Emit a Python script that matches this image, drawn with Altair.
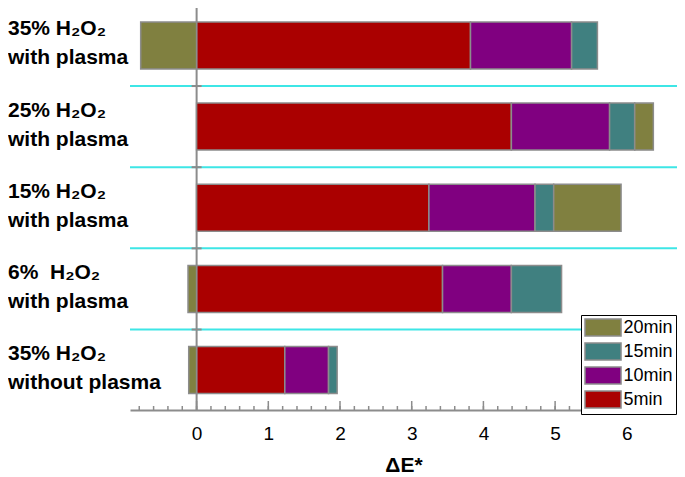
import altair as alt
import pandas as pd

# ---------------- data ----------------
categories = [
    "35% H₂O₂\nwith plasma",
    "25% H₂O₂\nwith plasma",
    "15% H₂O₂\nwith plasma",
    "6%\u00a0 H₂O₂\nwith plasma",
    "35% H₂O₂\nwithout plasma",
]
min5 = [3.82, 4.39, 3.24, 3.43, 1.23]
min10 = [1.41, 1.37, 1.48, 0.96, 0.61]
min15 = [0.36, 0.35, 0.26, 0.70, 0.12]
min20 = [-0.78, 0.26, 0.94, -0.12, -0.11]

durations = ["5min", "10min", "15min", "20min"]
legend_order = ["20min", "15min", "10min", "5min"]
legend_colors = ["#808040", "#408080", "#800080", "#aa0000"]

major_ticks = [0, 1, 2, 3, 4, 5, 6]
minor_ticks = [round(-0.8 + 0.2 * i, 1) for i in range(38)]
separators = [0.5, 1.5, 2.5, 3.5]

# ---------------- tables ----------------
rows = []
series = [min5, min10, min15, min20]
for i, cat in enumerate(categories):
    for k, d in enumerate(durations):
        rows.append({"row": i, "category": cat, "duration": d, "ord": k, "value": series[k][i]})
df = pd.DataFrame(rows)
lab_df = pd.DataFrame({"row": list(range(len(categories))), "label": categories})
sep_df = pd.DataFrame({"b": separators})
zero_df = pd.DataFrame({"z": [0]})
minor_df = pd.DataFrame({"t": minor_ticks})
major_df = pd.DataFrame({"t": major_ticks})

# ---------------- layout ----------------
W, H = 547, 402
GRAY = "#8c8c8c"
FONT = "Liberation Sans"

xscale = alt.Scale(domain=[-0.929, 6.70], nice=False, zero=False)
yscale = alt.Scale(domain=[-0.40, 4.43], nice=False, zero=False, reverse=True)

sep = alt.Chart(sep_df).mark_rule(color="#3ee6e6", strokeWidth=2).encode(
    y=alt.Y("b:Q", scale=yscale, axis=None)
)
zero = alt.Chart(zero_df).mark_rule(color=GRAY, strokeWidth=2).encode(
    x=alt.X("z:Q", scale=xscale)
)
zero_ticks = alt.Chart(sep_df.assign(z=0)).mark_tick(
    orient="horizontal", size=10, thickness=2, color=GRAY, opacity=1
).encode(
    x=alt.X("z:Q", scale=xscale),
    y=alt.Y("b:Q", scale=yscale),
)

bars = alt.Chart(df).mark_bar(
    orient="horizontal", size=47, stroke=GRAY, strokeWidth=1.5, opacity=1
).encode(
    x=alt.X(
        "value:Q",
        scale=xscale,
        stack="zero",
        title="ΔE*",
        axis=alt.Axis(
            values=major_ticks,
            format="d",
            ticks=False,
            grid=False,
            domainColor=GRAY,
            domainWidth=2,
            labelFont=FONT,
            labelFontSize=19,
            labelColor="black",
            labelPadding=14,
            titleFont=FONT,
            titleFontSize=21,
            titleFontWeight="bold",
            titleColor="black",
            titlePadding=11,
        ),
    ),
    y=alt.Y("row:Q", scale=yscale, axis=None),
    color=alt.Color(
        "duration:N",
        scale=alt.Scale(domain=legend_order, range=legend_colors),
        legend=alt.Legend(
            orient="none",
            legendX=451,
            legendY=307,
            title=None,
            symbolType="M-1,-1H3.24V1H-1Z",
            symbolSize=289,
            symbolStrokeColor=GRAY,
            symbolStrokeWidth=1.5,
            symbolOpacity=1,
            labelFont=FONT,
            labelFontSize=18,
            labelColor="black",
            labelOffset=20.5,
            rowPadding=1,
            padding=3,
            strokeColor="black",
            fillColor="white",
            cornerRadius=0,
        ),
    ),
    order=alt.Order("ord:Q"),
)

minor = alt.Chart(minor_df).mark_rule(color=GRAY, strokeWidth=1.5).encode(
    x=alt.X("t:Q", scale=xscale), y=alt.value(H - 4), y2=alt.value(H)
)
major = alt.Chart(major_df).mark_rule(color=GRAY, strokeWidth=1.5).encode(
    x=alt.X("t:Q", scale=xscale), y=alt.value(H - 9), y2=alt.value(H)
)

labels = alt.Chart(lab_df).mark_text(
    align="left",
    baseline="middle",
    font=FONT,
    fontSize=21,
    fontWeight="bold",
    lineBreak="\n",
    lineHeight=29,
    dy=-16,
    color="black",
).encode(
    x=alt.value(-122),
    y=alt.Y("row:Q", scale=yscale),
    text="label:N",
)

chart = (
    alt.layer(sep, zero, bars, zero_ticks, minor, major, labels)
    .properties(
        width=W,
        height=H,
        autosize=alt.AutoSizeParams(type="none"),
        padding={"left": 122, "top": 0, "right": 0, "bottom": 67},
        background="white",
    )
    .configure_view(stroke=None)
)

chart.save("out.html", embed_options={"renderer": "svg", "actions": False})
